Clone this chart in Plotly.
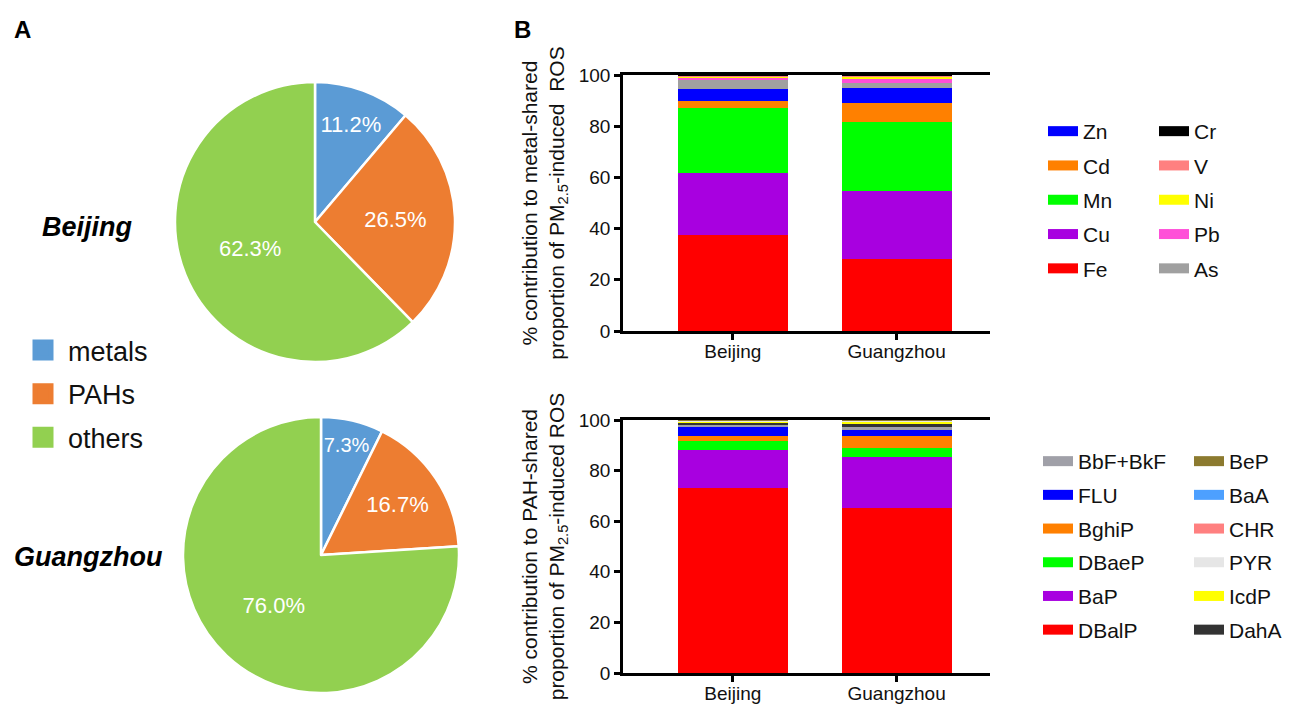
import plotly.graph_objects as go

W, H = 1291, 706

# ---------------- data ----------------
pie_labels = ["metals", "PAHs", "others"]
pie_colors = ["#5B9BD5", "#ED7D31", "#92D050"]
beijing_pie = [11.2, 26.5, 62.3]
guangzhou_pie = [7.3, 16.7, 76.0]

cities = ["Beijing", "Guangzhou"]

# metals, stacking order bottom -> top
metal_names = ["Fe", "Cu", "Mn", "Cd", "Zn", "As", "Pb", "Ni", "V", "Cr"]
metal_colors = ["#FF0000", "#A800E0", "#00FF00", "#FF8000", "#0000FF",
                "#A0A0A0", "#FF4FD8", "#FFFF00", "#FF8080", "#000000"]
metal_beijing = [37.5, 24.2, 25.4, 2.7, 4.7, 3.5, 1.2, 0.4, 0.2, 0.2]
metal_guangzhou = [28.1, 26.6, 26.9, 7.4, 5.9, 2.0, 1.5, 0.9, 0.5, 0.2]
metal_legend_col1 = ["Zn", "Cd", "Mn", "Cu", "Fe"]
metal_legend_col2 = ["Cr", "V", "Ni", "Pb", "As"]

# PAHs, stacking order bottom -> top
pah_names = ["DBalP", "BaP", "DBaeP", "BghiP", "FLU", "BbF+BkF",
             "DahA", "IcdP", "PYR", "CHR", "BaA", "BeP"]
pah_colors = ["#FF0000", "#A800E0", "#00FF00", "#FF8000", "#0000FF", "#A0A0A8",
              "#333333", "#FFFF00", "#E6E6E6", "#FF8080", "#4DA0FF", "#8C7A2F"]
pah_beijing = [73.2, 15.0, 3.5, 2.0, 3.5, 1.2, 0.6, 0.5, 0.2, 0.1, 0.1, 0.1]
pah_guangzhou = [65.4, 20.0, 3.6, 4.7, 2.4, 1.1, 1.1, 1.2, 0.2, 0.1, 0.1, 0.1]
pah_legend_col1 = ["BbF+BkF", "FLU", "BghiP", "DBaeP", "BaP", "DBalP"]
pah_legend_col2 = ["BeP", "BaA", "CHR", "PYR", "IcdP", "DahA"]

FONT = "Arial, Liberation Sans, sans-serif"

def px_x(p):
    return p / W

def px_y(p):
    return 1 - p / H

fig = go.Figure()

# ---------------- pies ----------------
for vals, dom in [(beijing_pie, ([175, 455], [82, 362])),
                  (guangzhou_pie, ([183, 459], [417, 693]))]:
    fig.add_trace(go.Pie(
        labels=pie_labels, values=vals, sort=False, direction="clockwise",
        rotation=0, marker=dict(colors=pie_colors, line=dict(color="white", width=2.5)),
        texttemplate="%{value:.1f}%", textposition="inside",
        insidetextorientation="horizontal",
        textfont=dict(color="white", size=22, family=FONT),
        hoverinfo="label+value", showlegend=False,
        domain=dict(x=[px_x(dom[0][0]), px_x(dom[0][1])],
                    y=[px_y(dom[1][1]), px_y(dom[1][0])]),
    ))

# pie legend (dummy entries)
for name, col in zip(pie_labels, pie_colors):
    fig.add_trace(go.Scatter(
        x=[None], y=[None], mode="markers", name=name, legend="legend",
        legendgroup="pie_" + name,
        marker=dict(symbol="square", size=16, color=col, line=dict(color=col, width=5)),
        xaxis="x", yaxis="y", hoverinfo="skip",
    ))

# ---------------- stacked bars ----------------
for names, colors, bj, gz, ax in [
        (metal_names, metal_colors, metal_beijing, metal_guangzhou, ("x", "y")),
        (pah_names, pah_colors, pah_beijing, pah_guangzhou, ("x2", "y2"))]:
    for n, c, a, b in zip(names, colors, bj, gz):
        fig.add_trace(go.Bar(
            x=cities, y=[a, b], name=n, marker=dict(color=c, line=dict(width=0)),
            xaxis=ax[0], yaxis=ax[1], showlegend=False,
        ))

# bar legends (dummy entries, one legend per column)
def add_legend_col(names_in_col, all_names, all_colors, legend_id):
    for n in names_in_col:
        c = all_colors[all_names.index(n)]
        fig.add_trace(go.Scatter(
            x=[None], y=[None], mode="lines", name=n, legend=legend_id,
            legendgroup=legend_id + n, line=dict(color=c, width=10),
            xaxis="x", yaxis="y", hoverinfo="skip",
        ))

add_legend_col(metal_legend_col1, metal_names, metal_colors, "legend2")
add_legend_col(metal_legend_col2, metal_names, metal_colors, "legend3")
add_legend_col(pah_legend_col1, pah_names, pah_colors, "legend4")
add_legend_col(pah_legend_col2, pah_names, pah_colors, "legend5")

def legend_box(x, y, size, gap, iw=30):
    return dict(x=px_x(x), y=px_y(y), xanchor="left", yanchor="top",
                bgcolor="rgba(0,0,0,0)", font=dict(size=size, family=FONT, color="#111"),
                tracegroupgap=gap, traceorder="grouped", itemclick=False,
                itemdoubleclick=False, itemwidth=iw)

xax_common = dict(type="category", range=[-0.67, 1.57], showline=True, linewidth=2.5,
                  linecolor="black", mirror=True, ticks="outside", ticklen=6,
                  tickwidth=2.5, tickcolor="black", showgrid=False, zeroline=False,
                  automargin=False, ticklabelstandoff=-5,
                  tickfont=dict(size=19, family=FONT, color="#111"))
yax_common = dict(range=[0, 100], dtick=20, showline=True, linewidth=2.5,
                  linecolor="black", ticks="outside", ticklen=6, tickwidth=2.5,
                  tickcolor="black", showgrid=False, zeroline=False, automargin=False,
                  tickfont=dict(size=19, family=FONT, color="#111"))

title_font = dict(size=21, family=FONT, color="#111")

fig.update_layout(
    width=W, height=H, autosize=False, margin=dict(l=0, r=0, t=0, b=0, pad=0, autoexpand=False),
    paper_bgcolor="white", plot_bgcolor="white",
    barmode="stack", bargap=0.33,
    font=dict(family=FONT),
    xaxis=dict(domain=[px_x(623), px_x(990)], anchor="y", **xax_common),
    yaxis=dict(domain=[px_y(331), px_y(75)], anchor="x",
               title=dict(text="% contribution to metal-shared<br>proportion of PM<sub>2.5</sub>-induced  ROS",
                          font=title_font, standoff=9), **yax_common),
    xaxis2=dict(domain=[px_x(623), px_x(990)], anchor="y2", **xax_common),
    yaxis2=dict(domain=[px_y(673), px_y(420)], anchor="x2",
                title=dict(text="% contribution to PAH-shared<br>proportion of PM<sub>2.5</sub>-induced ROS",
                           font=title_font, standoff=9), **yax_common),
    legend=legend_box(18, 326, 27, 5.5, 40),
    legend2=legend_box(1043, 111, 21, 4),
    legend3=legend_box(1154, 111, 21, 4),
    legend4=legend_box(1038, 441, 21, 3.4),
    legend5=legend_box(1189, 441, 21, 3.4),
    annotations=[
        dict(text="<b>A</b>", x=px_x(12), y=px_y(14), xref="paper", yref="paper",
             xanchor="left", yanchor="top", showarrow=False,
             font=dict(size=24, family=FONT, color="black")),
        dict(text="<b>B</b>", x=px_x(512), y=px_y(14), xref="paper", yref="paper",
             xanchor="left", yanchor="top", showarrow=False,
             font=dict(size=24, family=FONT, color="black")),
        dict(text="<b><i>Beijing</i></b>", x=px_x(87), y=px_y(227), xref="paper", yref="paper",
             xanchor="center", yanchor="middle", showarrow=False,
             font=dict(size=27, family=FONT, color="black")),
        dict(text="<b><i>Guangzhou</i></b>", x=px_x(88), y=px_y(557), xref="paper", yref="paper",
             xanchor="center", yanchor="middle", showarrow=False,
             font=dict(size=27, family=FONT, color="black")),
    ],
)

fig.write_html("out.html", config={"responsive": False, "displayModeBar": False},
               post_script="document.body.style.margin='0';document.body.style.overflow='hidden';")
